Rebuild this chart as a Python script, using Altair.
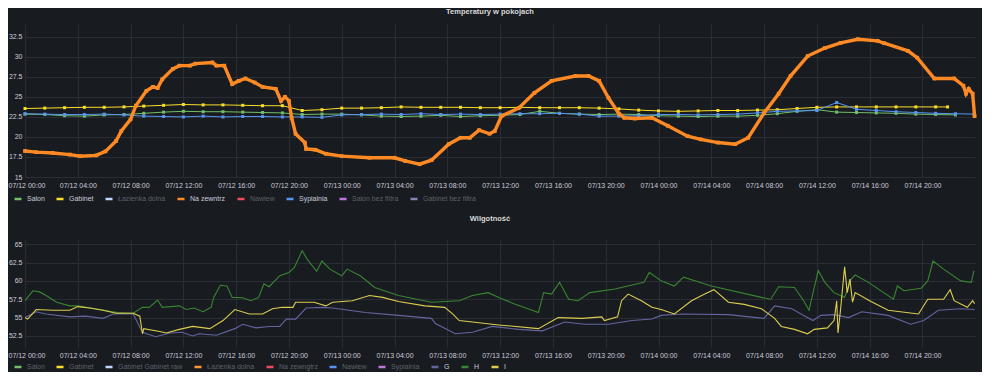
import json
import altair as alt
import pandas as pd

# ---------------- Temperature panel data ----------------
TEMP_NAMES = ["Salon", "Gabinet", "Łazienka dolna", "Na zewntrz", "Nawiew",
              "Sypialnia", "Salon bez filtra", "Gabinet bez filtra"]
TEMP_COLORS = ["#73BF69", "#FADE2A", "#C0D8FF", "#FF8A24", "#F2495C",
               "#5794F2", "#B877D9", "#8A80B8"]
TEMP_VISIBLE = ["Salon", "Gabinet", "Na zewntrz", "Sypialnia"]

# hours since 07/12 00:00
out_hours = [0, 0.85, 2.1, 3.4, 4.2, 5.4, 6.1, 6.9, 7.3, 8.0, 8.4, 9.2, 9.7, 10.05,
             10.4, 11.2, 11.7, 12.5, 12.9, 14.2, 14.5, 15.1, 15.7, 16.2, 16.7, 17.4,
             18.0, 19.0, 19.4, 19.7, 20.0, 20.2, 20.5, 21.2, 21.3, 22.0, 22.8, 24.0,
             26.1, 28.0, 28.8, 29.9, 30.8, 32.1, 33.0, 33.7, 34.4, 35.2, 35.6, 36.1,
             37.4, 38.6, 39.9, 41.7, 42.7, 43.5, 44.2, 45.0, 45.4, 46.2, 47.5, 48.7,
             50.2, 51.2, 52.5, 53.8, 54.8, 56.0, 57.1, 58.0, 59.3, 60.6, 61.8, 63.1,
             64.6, 65.1, 66.9, 67.6, 68.9, 70.4, 71.1, 71.3, 71.5, 71.8, 71.95]
out_vals = [18.25, 18.1, 18.0, 17.8, 17.6, 17.7, 18.2, 19.5, 20.75, 22.2, 23.9, 25.75,
            26.25, 26.1, 27.2, 28.5, 28.9, 28.9, 29.15, 29.3, 28.9, 28.9, 26.6, 27.0,
            27.3, 26.8, 26.25, 26.0, 24.5, 25.0, 24.5, 22.4, 20.4, 19.3, 18.5, 18.4,
            17.9, 17.6, 17.4, 17.4, 17.0, 16.6, 17.1, 19.1, 19.9, 19.9, 20.85, 20.4,
            20.75, 22.6, 23.6, 25.5, 27.0, 27.6, 27.6, 27.0, 24.9, 22.9, 22.4, 22.3,
            22.4, 21.4, 20.1, 19.7, 19.3, 19.1, 19.9, 23.0, 25.4, 27.6, 30.1, 31.1,
            31.75, 32.2, 32.0, 31.7, 30.75, 29.9, 27.3, 27.3, 26.4, 25.4, 26.0, 25.4,
            22.6]

salon_hours = [i * 1.5 for i in range(48)]
salon_vals = [22.85, 22.8, 22.65, 22.6, 22.75, 22.8, 22.95, 23.1, 23.2, 23.15,
              23.15, 23.1, 23.05, 23.0, 22.8, 22.85, 22.85, 22.75, 22.6, 22.55,
              22.6, 22.7, 22.55, 22.65, 22.7, 22.8, 23.2, 22.95, 22.85, 22.8,
              22.85, 22.8, 22.65, 22.6, 22.55, 22.6, 22.6, 22.7, 22.9, 23.2,
              23.4, 23.1, 23.05, 23.0, 22.95, 22.85, 22.8, 22.75]

gab_hours = [i * 1.5 for i in range(47)] + [69.9]
gab_vals = [23.55, 23.6, 23.65, 23.7, 23.7, 23.75, 23.85, 23.95, 24.05, 24.0,
            24.0, 23.95, 23.9, 23.9, 23.3, 23.4, 23.6, 23.6, 23.65, 23.75,
            23.7, 23.7, 23.7, 23.65, 23.65, 23.7, 23.65, 23.65, 23.65, 23.6,
            23.5, 23.35, 23.25, 23.2, 23.25, 23.3, 23.3, 23.35, 23.4, 23.55,
            23.7, 23.75, 23.75, 23.75, 23.75, 23.75, 23.75, 23.75]

syp_hours = [i * 1.5 for i in range(48)] + [71.9]
syp_vals = [22.9, 22.85, 22.8, 22.8, 22.85, 22.75, 22.6, 22.55, 22.5, 22.6,
            22.5, 22.55, 22.55, 22.5, 22.5, 22.45, 22.75, 22.8, 22.85, 22.8,
            22.9, 22.8, 22.85, 22.8, 22.85, 22.9, 22.9, 22.95, 22.85, 22.6,
            22.6, 22.65, 22.8, 22.8, 22.75, 22.8, 22.85, 23.0, 23.2, 23.25,
            23.3, 24.3, 23.45, 23.3, 23.15, 23.05, 22.95, 22.9, 22.85]

# ---------------- Humidity panel data ----------------
HUM_NAMES = ["Salon", "Gabinet", "Gabinet Gabinet raw", "Łazienka dolna", "Na zewngtrz",
             "Nawiew", "Sypialnia", "G", "H", "I"]
HUM_COLORS = ["#73BF69", "#FADE2A", "#C0D8FF", "#FF9830", "#F2495C",
              "#5794F2", "#B877D9", "#64649F", "#3A8532", "#DCCD50"]
HUM_VISIBLE = ["G", "H", "I"]

h_hours = [0, 0.6, 1.1, 1.6, 2.4, 3.4, 4.0, 5.0, 6.0, 7.0, 8.2, 8.9, 9.4, 10.05, 10.4,
           11.7, 12.2, 12.8, 13.5, 14.1, 14.3, 14.8, 15.3, 15.7, 16.5, 17.1, 17.7, 18.1,
           18.5, 19.3, 20.0, 20.4, 21.0, 21.4, 22.1, 22.5, 23.1, 24.0, 24.4, 25.4, 26.5,
           28.3, 30.8, 32.9, 33.9, 35.1, 35.9, 37.1, 38.9, 39.3, 39.9, 40.5, 41.2, 41.9,
           42.8, 44.7, 46.9, 47.3, 48.2, 49.2, 49.9, 52.0, 55.8, 56.5, 57.1, 58.3, 59.0,
           59.4, 60.1, 60.6, 61.3, 62.1, 62.6, 62.9, 63.9, 65.8, 66.1, 66.6, 67.9, 68.4,
           68.8, 69.6, 70.9, 71.7, 71.9]
h_vals = [57.3, 58.65, 58.5, 58.0, 57.1, 56.6, 56.6, 56.3, 56.0, 55.7, 55.6, 56.4, 56.4,
          57.4, 56.4, 56.6, 56.1, 56.3, 55.8, 56.4, 57.75, 59.4, 59.3, 57.75, 57.7, 57.3,
          57.75, 59.6, 59.2, 60.7, 61.15, 61.8, 64.1, 62.9, 61.3, 62.7, 61.6, 60.7, 61.6,
          60.7, 59.1, 58.0, 57.1, 57.3, 58.0, 58.4, 57.75, 56.85, 55.7, 58.4, 58.2, 59.8,
          57.5, 57.3, 58.4, 58.9, 59.8, 61.15, 60.0, 59.3, 60.5, 59.3, 57.75, 57.5, 59.2,
          59.1, 57.3, 56.0, 61.4, 59.8, 58.4, 57.75, 60.25, 60.8, 59.8, 57.5, 59.3, 58.65,
          59.0, 60.0, 62.7, 61.6, 60.0, 59.8, 61.4]

i_hours = [0, 0.2, 0.85, 2.1, 3.4, 4.0, 4.9, 5.9, 6.9, 8.2, 8.7, 8.9, 9.0, 10.2, 10.7,
           11.7, 12.7, 14.0, 15.0, 15.9, 17.0, 18.0, 18.75, 19.5, 20.3, 20.5, 21.9, 22.8,
           23.3, 24.8, 26.1, 27.1, 28.3, 30.3, 31.8, 32.4, 32.9, 33.9, 35.9, 38.9, 40.4,
           42.2, 43.7, 43.9, 44.9, 45.2, 45.7, 46.7, 47.5, 48.2, 49.2, 50.5, 51.5, 52.2,
           53.3, 54.5, 55.8, 56.8, 57.3, 58.3, 59.3, 59.8, 60.8, 61.3, 61.5, 61.6, 61.8,
           62.1, 62.3, 62.5, 62.7, 62.9, 64.1, 65.4, 67.7, 68.4, 69.6, 70.1, 70.4, 71.4,
           71.8, 71.95]
i_vals = [55.0, 54.8, 56.1, 56.0, 56.0, 56.5, 56.3, 56.0, 55.6, 55.6, 55.2, 52.8, 53.5,
          53.1, 52.9, 53.4, 53.8, 53.5, 54.6, 56.1, 55.5, 55.5, 56.2, 56.4, 56.4, 57.1,
          57.1, 56.6, 57.1, 57.3, 58.0, 57.75, 57.2, 56.6, 56.4, 55.5, 54.6, 54.4, 54.0,
          53.5, 55.0, 54.9, 55.1, 54.6, 55.1, 57.3, 58.2, 57.3, 56.4, 56.1, 55.5, 57.3,
          58.2, 58.8, 57.1, 56.8, 56.2, 54.9, 53.8, 53.4, 52.8, 53.4, 53.6, 54.6, 57.3,
          52.9, 56.2, 61.9, 58.4, 60.25, 57.1, 58.4, 57.2, 56.0, 55.5, 57.5, 57.5, 58.8,
          57.3, 56.4, 57.3, 56.9]

g_hours = [0, 0.85, 1.6, 3.4, 4.6, 5.9, 6.7, 8.2, 8.9, 9.9, 11.0, 11.9, 12.7, 13.2, 14.5,
           15.9, 16.5, 17.5, 18.5, 19.3, 19.8, 20.5, 21.3, 22.5, 23.3, 25.8, 28.3, 30.8,
           31.1, 32.6, 33.9, 35.4, 37.4, 39.2, 40.9, 42.4, 44.2, 46.0, 47.5, 48.2, 49.7,
           53.3, 56.0, 56.8, 58.1, 59.0, 59.7, 60.3, 61.3, 62.4, 63.4, 65.4, 67.1, 68.1,
           69.2, 70.9, 71.95]
g_vals = [55.0, 55.8, 55.5, 55.1, 55.2, 54.9, 55.5, 55.5, 53.0, 52.4, 52.9, 53.0, 52.5,
          52.8, 52.6, 53.5, 54.1, 53.6, 53.8, 53.8, 54.8, 54.8, 56.3, 56.4, 56.3, 55.7,
          55.3, 54.9, 54.2, 52.8, 53.0, 53.8, 53.4, 53.2, 54.4, 54.1, 54.1, 54.6, 54.8,
          55.3, 55.5, 55.4, 54.9, 56.6, 56.2, 55.3, 54.6, 55.3, 55.4, 55.0, 55.8, 55.3,
          54.1, 54.6, 56.0, 56.2, 56.1]

X_TICKS = [0, 4, 8, 12, 16, 20, 24, 28, 32, 36, 40, 44, 48, 52, 56, 60, 64, 68]
TEMP_TICKS = [15, 17.5, 20, 22.5, 25, 27.5, 30, 32.5]
HUM_TICKS = [52.5, 55, 57.5, 60, 62.5, 65]


def frame(items):
    rows = []
    for name, hs, vs in items:
        for h, v in zip(hs, vs):
            rows.append({"h": h, "v": v, "series": name})
    return pd.DataFrame(rows)


indoor_df = frame([("Salon", salon_hours, salon_vals),
                   ("Gabinet", gab_hours, gab_vals),
                   ("Sypialnia", syp_hours, syp_vals)])
out_df = frame([("Na zewntrz", out_hours, out_vals)])
hum_df = frame([("G", g_hours, g_vals), ("H", h_hours, h_vals), ("I", i_hours, i_vals)])

FONT = "Liberation Sans, Arial, sans-serif"
TEXT = "#ccccdc"
DIM = "#5e616b"
W = 950

LABEL_EXPR = ("'07/' + (12 + floor(datum.value / 24)) + ' ' + "
              "(datum.value % 24 < 10 ? '0' : '') + (datum.value % 24) + ':00'")
X = alt.X("h:Q", scale=alt.Scale(domain=[0, 71.98], nice=False, zero=False),
          axis=alt.Axis(values=X_TICKS, labelExpr=LABEL_EXPR, title=None,
                        labelOverlap=False, labelPadding=4, labelFlush=True,
                        labelFlushOffset=17))


def legend(visible, x, y):
    expr = ("indexof(" + json.dumps(visible, ensure_ascii=False) +
            ", datum.value) >= 0 ? '" + TEXT + "' : '" + DIM + "'")
    return alt.Legend(title=None, orient="none", legendX=x, legendY=y,
                      direction="horizontal", symbolType="stroke",
                      symbolStrokeWidth=2.5, symbolSize=49, labelFontSize=7,
                      labelFont=FONT, labelColor={"expr": expr},
                      columnPadding=6, labelOffset=4)


temp_color = alt.Color("series:N", scale=alt.Scale(domain=TEMP_NAMES, range=TEMP_COLORS),
                       legend=legend(TEMP_VISIBLE, -12, 170))
temp_fill = alt.Fill("series:N", scale=alt.Scale(domain=TEMP_NAMES, range=TEMP_COLORS),
                     legend=None)
Y_T = alt.Y("v:Q", scale=alt.Scale(domain=[15, 34.1], nice=False, zero=False),
            axis=alt.Axis(values=TEMP_TICKS, title=None, labelPadding=3, format=".1~f"))

indoor_line = alt.Chart(indoor_df).mark_line(strokeWidth=1).encode(
    x=X, y=Y_T, color=temp_color)
indoor_pts = alt.Chart(indoor_df).mark_square(size=9, opacity=1).encode(
    x=X, y=Y_T, fill=temp_fill)
out_line = alt.Chart(out_df).mark_line(strokeWidth=3.4).encode(
    x=X, y=Y_T, color=temp_color)
out_pts = alt.Chart(out_df).mark_square(size=14, opacity=1).encode(
    x=X, y=Y_T, fill=temp_fill)

temp = alt.layer(indoor_line, indoor_pts, out_line, out_pts).properties(
    width=W, height=153,
    title=alt.TitleParams("Temperatury w pokojach", fontSize=7.5, fontWeight="bold",
                          color="#d8d9da", font=FONT, anchor="middle", offset=8.5, dx=-10))

hum_color = alt.Color("series:N", scale=alt.Scale(domain=HUM_NAMES, range=HUM_COLORS),
                      legend=legend(HUM_VISIBLE, -12, 123))
Y_H = alt.Y("v:Q", scale=alt.Scale(domain=[51.0, 65.7], nice=False, zero=False),
            axis=alt.Axis(values=HUM_TICKS, title=None, labelPadding=3, format=".1~f"))

hum = alt.Chart(hum_df).mark_line(strokeWidth=1.1).encode(
    x=X, y=Y_H, color=hum_color).properties(
    width=W, height=108,
    title=alt.TitleParams("Wilgotność", fontSize=7.5, fontWeight="bold",
                          color="#d8d9da", font=FONT, anchor="middle", offset=17, dx=-10))

chart = alt.vconcat(temp, hum, spacing=10).resolve_scale(
    color="independent", fill="independent"
).resolve_legend(color="independent").properties(
    background="#181b1f", padding=0,
).configure_view(strokeWidth=0).configure_axis(
    labelColor=TEXT, labelFont=FONT, labelFontSize=7, gridColor="#2a2d33",
    domain=False, ticks=False, grid=True,
)

chart.save("out.html", embed_options={"renderer": "svg", "actions": False})
